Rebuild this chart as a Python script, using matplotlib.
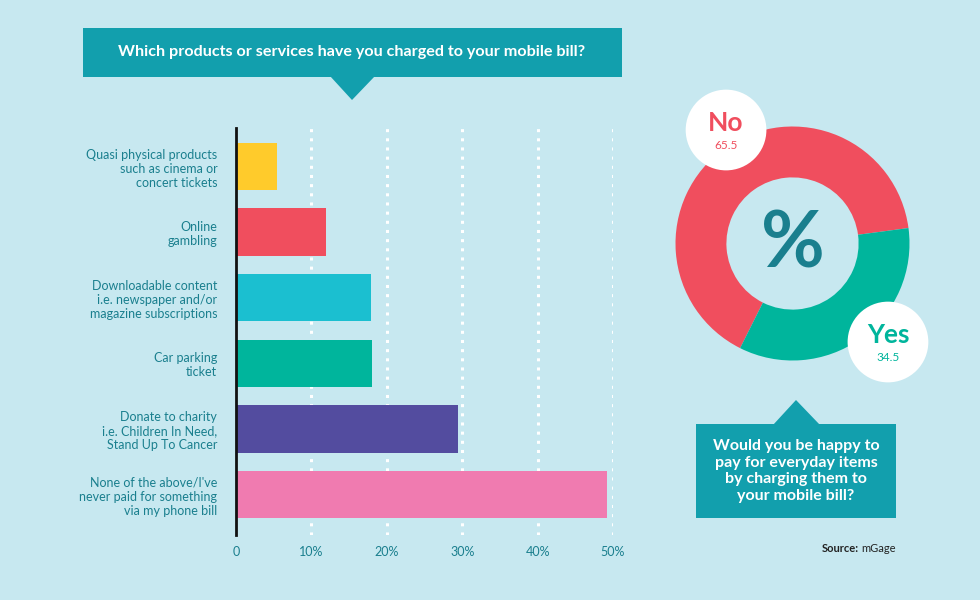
import matplotlib.pyplot as plt
from matplotlib.patches import Rectangle, Polygon, Circle

# Data
categories = [
    "Quasi physical products\nsuch as cinema or\nconcert tickets",
    "Online\ngambling",
    "Downloadable content\ni.e. newspaper and/or\nmagazine subscriptions",
    "Car parking\nticket",
    "Donate to charity\ni.e. Children In Need,\nStand Up To Cancer",
    "None of the above/I've\nnever paid for something\nvia my phone bill",
]
shares = [5.4, 11.9, 17.9, 18.0, 29.4, 49.2]
bar_colors = ["#FFCB2B", "#F04E5E", "#1BBFD0", "#00B59C", "#534C9F", "#F07BB0"]
x_ticks = [0, 10, 20, 30, 40, 50]
x_tick_labels = ["0", "10%", "20%", "30%", "40%", "50%"]

pie_labels = ["No", "Yes"]
pie_values = [65.5, 34.5]
pie_colors = ["#F04E5E", "#00B59C"]

bg = "#C7E8F0"
teal = "#1A7F8E"
box = "#129FAD"

plt.rcParams['font.family'] = ['Lato', 'DejaVu Sans']

W, H = 980, 600
fig = plt.figure(figsize=(9.8, 6), dpi=100)
fig.patch.set_facecolor(bg)

def frac(x0, y0, x1, y1):
    # pixel box (top-left origin) -> figure fraction rect
    return [x0 / W, 1 - y1 / H, (x1 - x0) / W, (y1 - y0) / H]

# background / decoration layer in pixel coordinates
ax_bg = fig.add_axes([0, 0, 1, 1], zorder=0)
ax_bg.set_xlim(0, W)
ax_bg.set_ylim(H, 0)
ax_bg.axis('off')

ax_bg.add_patch(Rectangle((83, 28), 539, 49, color=box, lw=0))
ax_bg.add_patch(Polygon([(330, 76), (375, 76), (352, 100)], color=box, lw=0))
ax_bg.text(352, 52, "Which products or services have you charged to your mobile bill?",
           color='white', fontsize=11.6, fontweight='bold', ha='center', va='center')

ax_bg.add_patch(Rectangle((696, 424), 200, 94, color=box, lw=0))
ax_bg.add_patch(Polygon([(773, 425), (820, 425), (796, 400)], color=box, lw=0))
ax_bg.text(796, 471, "Would you be happy to\npay for everyday items\nby charging them to\nyour mobile bill?",
           color='white', fontsize=11.5, fontweight='bold', ha='center', va='center',
           linespacing=1.25)

ax_bg.text(896, 549, "mGage", color='#222222', fontsize=8, ha='right', va='center')
ax_bg.text(859, 549, "Source:", color='#222222', fontsize=8, fontweight='bold',
           ha='right', va='center')

# bar chart
ax = fig.add_axes(frac(236, 128, 613, 535), zorder=1)
ax.patch.set_alpha(0)
ypos = list(range(len(categories)))
ax.barh(ypos, shares, height=0.72, color=bar_colors, zorder=3)
ax.set_xlim(0, 50)
ax.set_ylim(5.617, -0.587)
ax.set_yticks(ypos, labels=categories)
ax.set_xticks(x_ticks, labels=x_tick_labels)
ax.tick_params(axis='y', length=0, pad=13.5, labelsize=9, labelcolor=teal)
ax.tick_params(axis='x', length=0, pad=8, labelsize=9, labelcolor=teal)
for lab in ax.get_yticklabels():
    lab.set_linespacing(1.2)
for t in x_ticks[1:]:
    ax.axvline(t, color='white', lw=2.2, linestyle=(0, (1, 2)), zorder=1)
for s in ['top', 'right', 'bottom']:
    ax.spines[s].set_visible(False)
ax.spines['left'].set_linewidth(2)
ax.spines['left'].set_color('#111111')
ax.spines['left'].set_zorder(4)

# donut
cx, cy, r = 792.5, 243.5, 117
axp = fig.add_axes(frac(cx - r, cy - r, cx + r, cy + r), zorder=2)
axp.pie(pie_values, colors=pie_colors, startangle=7.6, counterclock=True, radius=1,
        wedgeprops=dict(width=0.435, linewidth=0))
axp.set_xlim(-1, 1)
axp.set_ylim(-1, 1)
axp.set_aspect('equal')
axp.axis('off')
axp.text(0, -0.02, "%", color=teal, fontsize=56, fontweight='bold', ha='center', va='center')

bubbles = [(-0.568, 0.970), (0.816, -0.842)]
for (bx, by), lab, val, col in zip(bubbles, pie_labels, pie_values, pie_colors):
    axp.add_patch(Circle((bx, by), 0.345, color='white', lw=0, clip_on=False, zorder=5))
    axp.text(bx, by + 0.06, lab, color=col, fontsize=19, fontweight='bold',
             ha='center', va='center', zorder=6, clip_on=False)
    axp.text(bx, by - 0.13, f"{val}", color=col, fontsize=8.5,
             ha='center', va='center', zorder=6, clip_on=False)

fig.savefig("out.png", dpi=100, facecolor=bg)
